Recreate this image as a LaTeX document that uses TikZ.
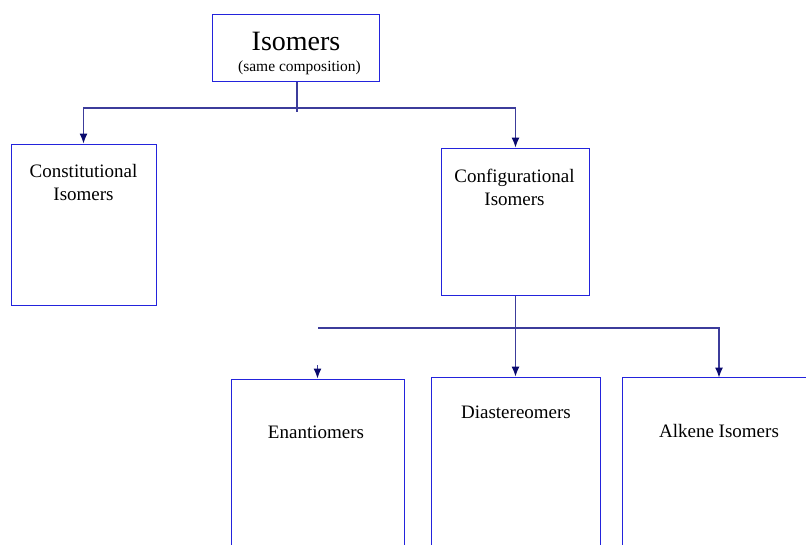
\documentclass[tikz,border=0pt]{standalone}
\usepackage{fontspec}
\setmainfont{Liberation Serif}
\usetikzlibrary{arrows.meta}
\definecolor{bordbleu}{RGB}{35,35,220}
\definecolor{traitbleu}{RGB}{60,60,155}
\definecolor{pointe}{RGB}{10,10,110}
\tikzset{
  boite/.style={draw=bordbleu, line width=1pt, inner sep=0pt},
  fleche/.style={draw=traitbleu, line width=1.2pt, -{Latex[length=10pt,width=8pt]}, arrows={[fill=pointe,color=pointe]}},
  trait/.style={draw=traitbleu, line width=1.2pt},
  texte/.style={align=center, font=\fontsize{19}{23}\selectfont}
}
\begin{document}
\begin{tikzpicture}[x=1pt, y=-1pt]
  \useasboundingbox (0,0) rectangle (806,544);
  \clip (0,0) rectangle (806,544);

  % Boite du haut : Isomers
  \node[boite, minimum width=167pt, minimum height=67pt] (iso) at (295.5,47.5) {};
  \node[font=\fontsize{28}{30}\selectfont] (isoT) at (296,41) {Isomers};
  \node[font=\fontsize{15.5}{17}\selectfont] (isoS) at (299.5,68) {(same composition)};

  % Deuxieme niveau
  \node[boite, minimum width=145pt, minimum height=161pt] (const) at (83.5,224.5) {};
  \node[texte] (constT) at (83.5,182) {Constitutional\\Isomers};
  \node[boite, minimum width=148pt, minimum height=147pt] (config) at (515.5,221.5) {};
  \node[texte] (configT) at (514.5,187) {Configurational\\Isomers};

  % Troisieme niveau (coupe en bas)
  \node[boite, minimum width=173pt, minimum height=181pt] (enan) at (317.5,469.5) {};
  \node[texte] (enanT) at (316,432) {Enantiomers};
  \node[boite, minimum width=169pt, minimum height=183pt] (dia) at (515.5,468.5) {};
  \node[texte] (diaT) at (516,412) {Diastereomers};
  \node[boite, minimum width=208pt, minimum height=183pt] (alk) at (726,468.5) {};
  \node[texte] (alkT) at (719,431) {Alkene Isomers};

  % Liaisons du premier niveau
  \coordinate (jonc) at (297,108);
  \draw[trait] (iso.south -| jonc) -- ++(0,30);
  \draw[fleche] (jonc) -| (const.north);
  \draw[fleche] (jonc) -| (config.north);

  % Liaisons du second niveau
  \coordinate (barre) at (515.5,328);
  \coordinate (barreG) at (318,328);
  \coordinate (alkH) at (719,377.5);
  \coordinate (enanH) at (317.5,365);
  \draw[trait] (config.south) -- (barre);
  \draw[trait] (barreG) -- (barre);
  \draw[fleche] (barre) -- (dia.north);
  \draw[fleche] (barre) -| (alkH);
  \draw[fleche] (enanH) -- (enan.north);
\end{tikzpicture}
\end{document}
